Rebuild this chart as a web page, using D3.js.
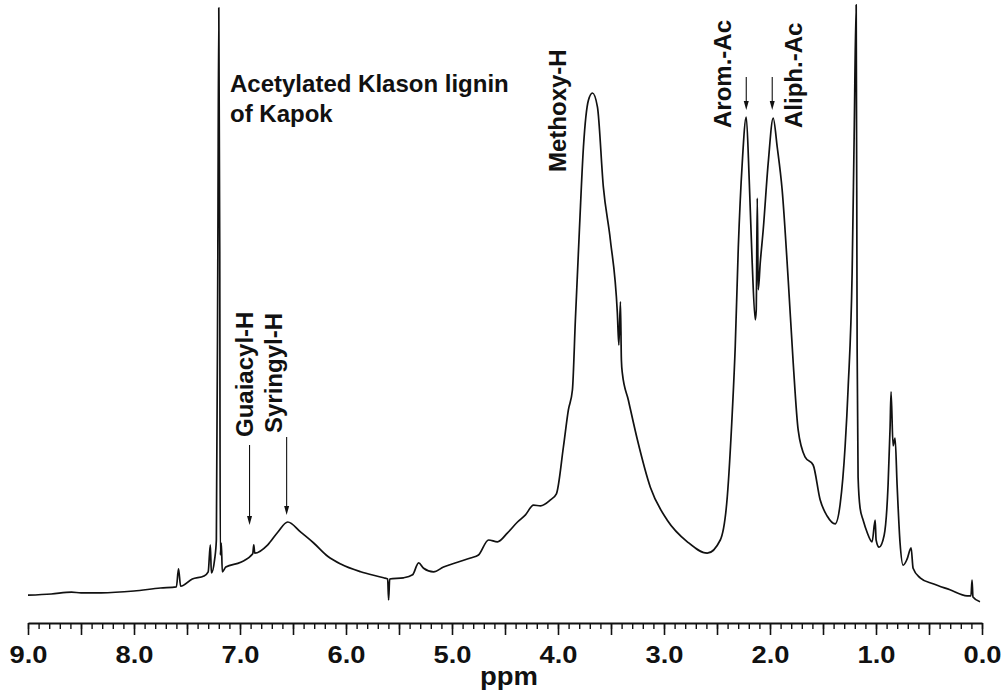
<!DOCTYPE html>
<html>
<head>
<meta charset="utf-8">
<script src="https://cdn.jsdelivr.net/npm/d3@7"></script>
<style>
  body { margin: 0; background: #fff; }
  text { font-family: "Liberation Sans", Arial, sans-serif; font-weight: bold; fill: #111; }
</style>
</head>
<body>
<script>
const WIDTH = 1003;
const HEIGHT = 692;

// chemical shift (ppm) of each point of the trace
const ppm = [9.00, 8.78, 8.59, 8.50, 8.31, 8.00, 7.75, 7.60, 7.58, 7.56, 7.45, 7.34, 7.30, 7.28, 7.27, 7.24,
  7.223, 7.209, 7.200, 7.191, 7.186, 7.176, 7.167, 7.134, 6.993, 6.880, 6.870, 6.861, 6.738, 6.644, 6.550,
  6.427, 6.305, 6.173, 6.050, 5.862, 5.645, 5.607, 5.598, 5.588, 5.457, 5.372, 5.315, 5.268, 5.174, 5.080,
  4.948, 4.825, 4.750, 4.655, 4.571, 4.476, 4.382, 4.307, 4.231, 4.165, 4.071, 4.015, 3.949, 3.902, 3.864,
  3.836, 3.798, 3.760, 3.713, 3.675, 3.628, 3.572, 3.506, 3.440, 3.426, 3.411, 3.402, 3.393, 3.336, 3.251,
  3.129, 2.969, 2.780, 2.592, 2.469, 2.403, 2.356, 2.328, 2.299, 2.262, 2.224, 2.196, 2.168, 2.139, 2.130,
  2.120, 2.111, 2.092, 2.064, 2.017, 1.970, 1.932, 1.885, 1.828, 1.781, 1.734, 1.668, 1.593, 1.527, 1.461,
  1.385, 1.338, 1.291, 1.263, 1.225, 1.206, 1.187, 1.178, 1.169, 1.150, 1.121, 1.084, 1.037, 1.008, 0.999,
  0.971, 0.923, 0.886, 0.867, 0.858, 0.839, 0.820, 0.801, 0.773, 0.744, 0.707, 0.669, 0.650, 0.584, 0.462,
  0.302, 0.141, 0.104, 0.094, 0.085, 0.019];

// relative intensity at each shift (0..100, arbitrary units)
const intensity = [0.8, 1.0, 1.3, 1.2, 1.2, 1.5, 2.0, 2.2, 5.2, 2.3, 3.5, 4.0, 4.7, 9.2, 4.5, 6.7,
  10, 58, 98.7, 58, 7.5, 9.5, 4.7, 5.5, 6.3, 7.7, 9.2, 7.8, 9.2, 11.3, 13.0,
  11.3, 9.5, 7.3, 6.0, 4.7, 3.7, 3.5, 0, 3.5, 3.7, 4.2, 6.2, 5.3, 4.7, 5.5,
  6.3, 7.0, 7.5, 10.0, 9.7, 11.2, 13.0, 14.2, 15.8, 15.7, 16.7, 17.7, 25.5, 31.7, 35.0,
  46.7, 61.7, 75.5, 83.3, 84.5, 82.2, 68.8, 60.0, 47.8, 42.5, 49.7, 40.0, 37.8, 33.3, 26.7,
  18.8, 13.3, 9.7, 7.8, 10.0, 17.2, 31.2, 42.2, 58.8, 72.8, 80.5, 70.0, 56.2, 46.7, 48.3,
  67.0, 51.7, 56.2, 61.7, 72.8, 80.3, 75.5, 68.3, 53.3, 39.5, 28.3, 23.8, 22.5, 16.7, 14.0,
  12.7, 16.0, 25.7, 35.3, 54.7, 77.3, 99.2, 41.8, 20.5, 15.3, 13.3, 11.3, 9.7, 13.3, 10,
  8.8, 10.8, 19.2, 28.8, 34.7, 25.7, 27.0, 19.2, 9.5, 5.8, 6.8, 8.7, 5.3, 3.7, 2.7,
  1.7, 0.7, 0.7, 3.3, 0.5, -0.3];

const tickLabels = ["9.0", "8.0", "7.0", "6.0", "5.0", "4.0", "3.0", "2.0", "1.0", "0.0"];

// peak assignments: label, shift of the label, shift of the arrow
const peakNames = ["Guaiacyl-H", "Syringyl-H", "Methoxy-H", "Arom.-Ac", "Aliph.-Ac"];
const labelPpm = [6.88, 6.60, 3.92, 2.37, 1.70];
const arrowPpm = [6.91, 6.56, null, 2.224, 1.979];

const titleLines = ["Acetylated Klason lignin", "of Kapok"];

const svg = d3.select("body").append("svg")
  .attr("width", WIDTH)
  .attr("height", HEIGHT);

const x = d3.scaleLinear().domain([9, 0]).range([28, 982]);
const y = d3.scaleLinear().domain([0, 100]).range([600, 0]);

const points = ppm.map((p, i) => ({ p: p, v: intensity[i] }));

svg.append("path")
  .datum(points)
  .attr("fill", "none")
  .attr("stroke", "#111")
  .attr("stroke-width", 1.7)
  .attr("stroke-linejoin", "round")
  .attr("d", d3.line().curve(d3.curveMonotoneX).x(d => x(d.p)).y(d => y(d.v)));

// axis: minor ticks every 0.1, major every 0.5, labels on whole ppm
const axisG = svg.append("g").attr("transform", "translate(0,623)");

axisG.append("g")
  .call(d3.axisBottom(x)
    .tickValues(d3.range(0, 91).map(d => d / 10))
    .tickSize(6).tickSizeOuter(0).tickFormat(""))
  .call(g => g.select(".domain").attr("stroke-width", 2.2).attr("stroke", "#111"))
  .call(g => g.selectAll(".tick line").attr("stroke-width", 1.4).attr("stroke", "#111"));

axisG.append("g")
  .call(d3.axisBottom(x)
    .tickValues(d3.range(0, 19).map(d => d / 2))
    .tickSize(12).tickSizeOuter(0)
    .tickFormat(d => tickLabels.find(t => +t === d) || ""))
  .call(g => g.select(".domain").remove())
  .call(g => g.selectAll(".tick line").attr("stroke-width", 1.6).attr("stroke", "#111"))
  .call(g => g.selectAll(".tick text")
    .attr("y", 40).attr("dy", 0)
    .attr("font-size", 23)
    .attr("font-family", "Liberation Sans, Arial, sans-serif")
    .attr("font-weight", "bold")
    .attr("fill", "#111")
    .filter(function() { return this.textContent !== ""; })
    .attr("textLength", 38)
    .attr("lengthAdjust", "spacingAndGlyphs"));

svg.append("text")
  .attr("x", 509).attr("y", 685)
  .attr("text-anchor", "middle")
  .attr("font-size", 26)
  .attr("textLength", 58)
  .attr("lengthAdjust", "spacingAndGlyphs")
  .text("ppm");

// title
svg.selectAll(".title")
  .data(titleLines)
  .enter().append("text")
  .attr("class", "title")
  .attr("x", 230)
  .attr("y", (d, i) => 92 + i * 30)
  .attr("font-size", 24)
  .text(d => d);

// rotated peak labels
const labelStart = [437, 433, 172, 128, 128];
svg.selectAll(".peak")
  .data(peakNames)
  .enter().append("text")
  .attr("class", "peak")
  .attr("transform", (d, i) => `translate(${x(labelPpm[i])},${labelStart[i]}) rotate(-90)`)
  .attr("font-size", 24)
  .text(d => d);

// arrows pointing at the peaks
const arrowTop = [445, 437, 0, 77, 77];
const arrowTip = [525, 515, 0, 110, 110];
const arrows = svg.append("g");
arrowPpm.forEach((p, i) => {
  if (p === null) return;
  const ax = x(p);
  arrows.append("line")
    .attr("x1", ax).attr("x2", ax)
    .attr("y1", arrowTop[i]).attr("y2", arrowTip[i] - 6)
    .attr("stroke", "#111").attr("stroke-width", 1.1);
  arrows.append("path")
    .attr("d", `M${ax - 2.5},${arrowTip[i] - 9}L${ax + 2.5},${arrowTip[i] - 9}L${ax},${arrowTip[i]}Z`)
    .attr("fill", "#111");
});
</script>
</body>
</html>
